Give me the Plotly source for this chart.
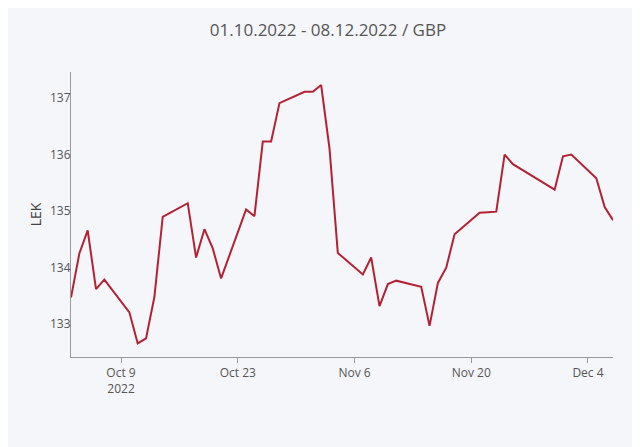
import plotly.graph_objects as go

dates = ["2022-10-03", "2022-10-04", "2022-10-05", "2022-10-06", "2022-10-07",
         "2022-10-10", "2022-10-11", "2022-10-12", "2022-10-13", "2022-10-14",
         "2022-10-17", "2022-10-18", "2022-10-19", "2022-10-20", "2022-10-21",
         "2022-10-24", "2022-10-25", "2022-10-26", "2022-10-27", "2022-10-28",
         "2022-10-31", "2022-11-01", "2022-11-02", "2022-11-03", "2022-11-04",
         "2022-11-07", "2022-11-08", "2022-11-09", "2022-11-10", "2022-11-11",
         "2022-11-14", "2022-11-15", "2022-11-16", "2022-11-17", "2022-11-18",
         "2022-11-21", "2022-11-22", "2022-11-23", "2022-11-24", "2022-11-25",
         "2022-11-30", "2022-12-01", "2022-12-02",
         "2022-12-05", "2022-12-06", "2022-12-07"]
rates = [133.47, 134.25, 134.66, 133.62, 133.79,
         133.21, 132.66, 132.75, 133.48, 134.90,
         135.14, 134.18, 134.68, 134.34, 133.81,
         135.03, 134.91, 136.23, 136.23, 136.91,
         137.11, 137.11, 137.23, 136.11, 134.26,
         133.88, 134.18, 133.32, 133.71, 133.77,
         133.66, 132.97, 133.73, 134.00, 134.59,
         134.97, 134.98, 134.99, 136.00, 135.83,
         135.38, 135.97, 136.00,
         135.58, 135.07, 134.84]

title_text = "01.10.2022 - 08.12.2022 / GBP"
y_title = "LEK"

fig = go.Figure(go.Scatter(x=dates, y=rates, mode="lines",
                           line=dict(color="#b22234", width=2)))

bg = "#f5f6fa"
fig.update_layout(
    width=640, height=447,
    margin=dict(l=63, r=35, t=64, b=98),
    paper_bgcolor=bg, plot_bgcolor=bg,
    font=dict(family="Open Sans", size=12, color="#444"),
    title=dict(text=title_text, x=0.5, xanchor="center", y=0.951, yanchor="middle",
               font=dict(size=17, color="#555")),
    showlegend=False,
)
fig.update_xaxes(type="date", range=["2022-10-03", "2022-12-07"],
                 showgrid=False, showline=True, linecolor="#999", linewidth=1,
                 ticks="outside", tickcolor="#999", ticklen=5,
                 dtick=14 * 86400000, tick0="2022-10-09",
                 zeroline=False, tickfont=dict(color="#555"))
fig.update_yaxes(range=[132.42, 137.46], showgrid=False, showline=True,
                 linecolor="#999", linewidth=1, ticks="", dtick=1,
                 zeroline=False, title=dict(text=y_title, standoff=5),
                 ticklabelstandoff=-3,
                 tickfont=dict(color="#555"))

fig.write_html("out.html")
